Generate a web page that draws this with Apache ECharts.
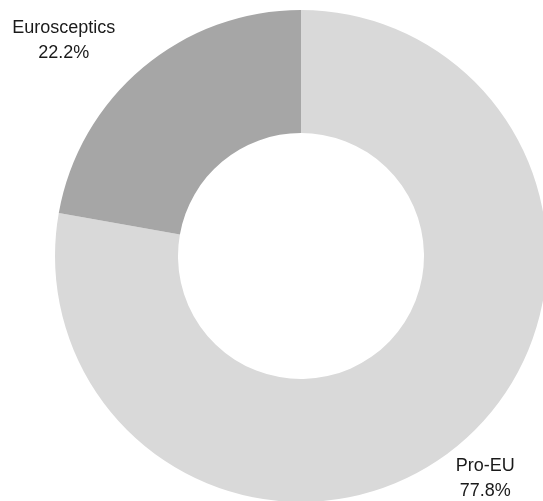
<!DOCTYPE html>
<html>
<head>
<meta charset="utf-8">
<script src="https://cdn.jsdelivr.net/npm/echarts@6/dist/echarts.min.js"></script>
<style>
html,body{margin:0;padding:0;background:#fff;}
#chart{width:543px;height:501px;}
</style>
</head>
<body>
<div id="chart"></div>
<script>
const categories = ["Pro-EU", "Eurosceptics"];
const shares = [77.8, 22.2];
const colors = ["#d9d9d9", "#a6a6a6"];
const labelLengths = [44, 35.5];
const labelLengths2 = [-2, 56.5];

const chart = echarts.init(document.getElementById('chart'), null, {renderer: 'canvas'});
chart.setOption({
  animation: false,
  backgroundColor: '#ffffff',
  series: [{
    type: 'pie',
    center: [301, 256],
    radius: [123, 246],
    startAngle: 90,
    clockwise: true,
    avoidLabelOverlap: false,
    silent: true,
    label: {
      show: true,
      position: 'outside',
      formatter: function (p) { return p.name + '\n' + p.value.toFixed(1) + '%'; },
      fontFamily: 'Liberation Sans',
      fontSize: 18,
      lineHeight: 25,
      color: '#1a1a1a',
      distanceToLabelLine: 0
    },
    labelLine: { show: false },
    labelLayout: function () { return { align: 'center', verticalAlign: 'middle' }; },
    data: categories.map(function (c, i) {
      return {
        name: c,
        value: shares[i],
        itemStyle: { color: colors[i] },
        labelLine: { show: false, length: labelLengths[i], length2: labelLengths2[i] }
      };
    })
  }]
});
</script>
</body>
</html>
